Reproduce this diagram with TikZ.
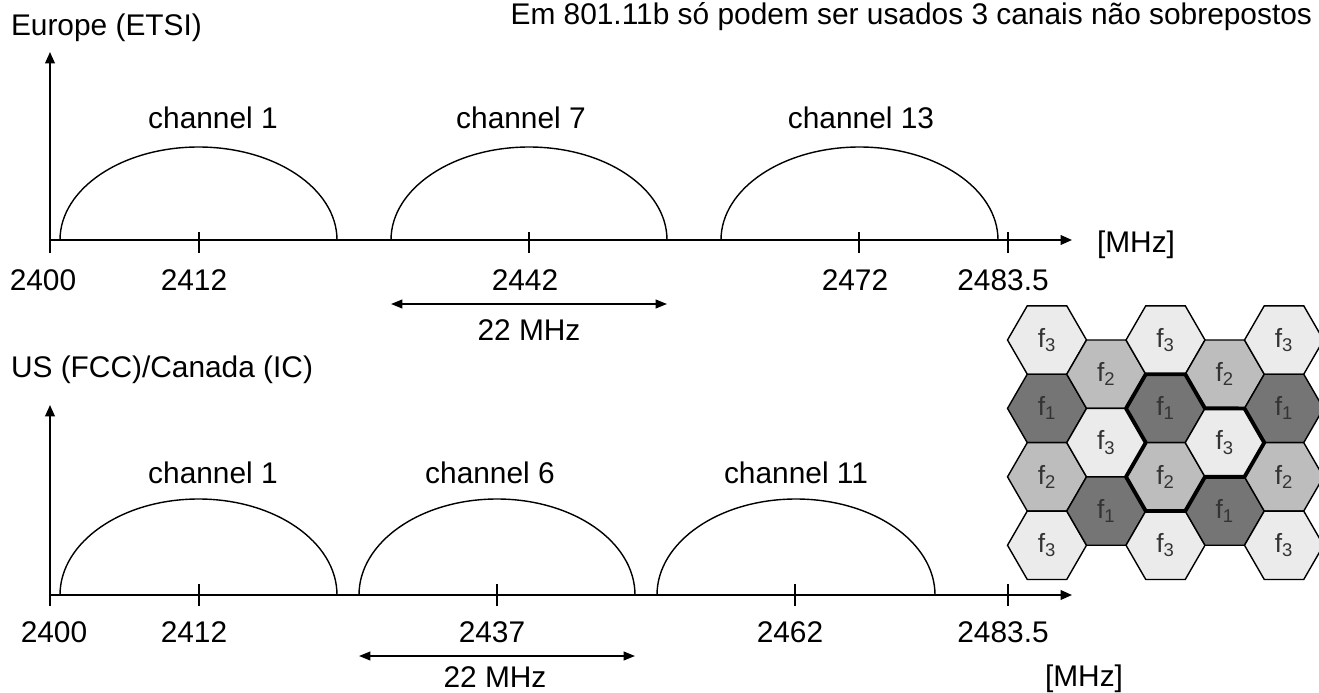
\documentclass[tikz,border=0pt]{standalone}
\usepackage{fontspec}
\setmainfont{Liberation Sans}
\usetikzlibrary{arrows.meta, positioning, shapes.geometric}

\begin{document}
\begin{tikzpicture}[x=0.02cm, y=-0.02cm,
  every node/.style={inner sep=0pt, outer sep=0pt, font=\fontsize{17}{20}\selectfont},
  lbl/.style={anchor=base},
  axis/.style={line width=1pt, -{Triangle[length=6.5pt, width=5.5pt]}},
  hump/.style={line width=0.8pt},
  tickmark/.style={line width=0.8pt},
  span/.style={line width=1pt, {Triangle[length=6.5pt, width=5pt]}-{Triangle[length=6.5pt, width=5pt]}},
  cell/.style={regular polygon, regular polygon sides=6, minimum size=1.58cm, draw=black, line width=0.8pt, text=black!80, font=\fontsize{15}{17}\selectfont},
  freq1/.style={cell, fill=black!54},
  freq2/.style={cell, fill=black!26},
  freq3/.style={cell, fill=black!8}]

\useasboundingbox (0,0) rectangle (1319,693);

\node[anchor=base east] (note) at (1312,25) {Em 801.11b só podem ser usados 3 canais não sobrepostos};

% --- Europe (ETSI) ---
\node[anchor=base west] (eu) at (11,35) {Europe (ETSI)};
\coordinate (o1) at (50,240);
\coordinate (foot1) at (50,253);
\coordinate (up1) at (50,52);
\coordinate (end1) at (1072,240);
\draw[axis] (foot1) -- (up1);
\draw[axis] (o1) -- (end1);
\foreach \a/\b in {60/337, 391/667, 721/998}
  \draw[hump] (\a,240) arc[start angle=180, end angle=360, x radius={(\b-\a)/2}, y radius=93];
\foreach \x in {199, 529, 859, 1008}
  \draw[tickmark] (\x,232) -- (\x,253);
\foreach \x/\v [count=\i] in {43/2400, 194/2412, 525/2442, 855/2472, 1003/2483.5}
  \node[lbl] (eun\i) at (\x,290) {\v};
\node[lbl] (euc1) at (213,128) {channel 1};
\node[lbl] (euc7) at (521,128) {channel 7};
\node[lbl] (euc13) at (861,128) {channel 13};
\node[anchor=base west] (eumhz) at (1097,252) {[MHz]};
\coordinate (eul) at (391,304);
\coordinate (eur) at (667,304);
\draw[span] (eul) -- (eur);
\node[lbl] (euw) at (529,340) {22 MHz};

% --- US (FCC)/Canada (IC) ---
\node[anchor=base west] (us) at (11,377) {US (FCC)/Canada (IC)};
\coordinate (o2) at (50,595);
\coordinate (foot2) at (50,606);
\coordinate (up2) at (50,405);
\coordinate (end2) at (1072,595);
\draw[axis] (foot2) -- (up2);
\draw[axis] (o2) -- (end2);
\foreach \a/\b in {60/337, 359/635, 657/935}
  \draw[hump] (\a,595) arc[start angle=180, end angle=360, x radius={(\b-\a)/2}, y radius=96];
\foreach \x in {199, 497, 795, 1008}
  \draw[tickmark] (\x,584) -- (\x,606);
\foreach \x/\v [count=\i] in {54/2400, 194/2412, 492/2437, 790/2462, 1003/2483.5}
  \node[lbl] (usn\i) at (\x,642) {\v};
\node[lbl] (usc1) at (213,483) {channel 1};
\node[lbl] (usc6) at (490,483) {channel 6};
\node[lbl] (usc11) at (796,483) {channel 11};
\node[anchor=base west] (usmhz) at (1045,686) {[MHz]};
\coordinate (usl) at (359,656);
\coordinate (usr) at (635,656);
\draw[span] (usl) -- (usr);
\node[lbl] (usw) at (495,687) {22 MHz};

% --- reuse pattern f1/f2/f3 ---
\foreach \c/\r/\n in {0/0/3, 0/2/1, 0/4/2, 0/6/3,
                      1/1/2, 1/3/3, 1/5/1,
                      2/0/3, 2/2/1, 2/4/2, 2/6/3,
                      3/1/2, 3/3/3, 3/5/1,
                      4/0/3, 4/2/1, 4/4/2, 4/6/3}
  \node[freq\n] (h\c\r) at ({1047+59.25*\c},{340+34.21*\r}) {f\textsubscript{\n}};
\draw[line width=2.2pt, line join=round]
  (h22.120) -- (h22.60) -- (h22.0) -- (h33.60) -- (h33.0) -- (h33.300) -- (h33.240)
  -- (h24.300) -- (h24.240) -- (h24.180) -- (h24.120) -- (h22.180) -- cycle;

\end{tikzpicture}
\end{document}
